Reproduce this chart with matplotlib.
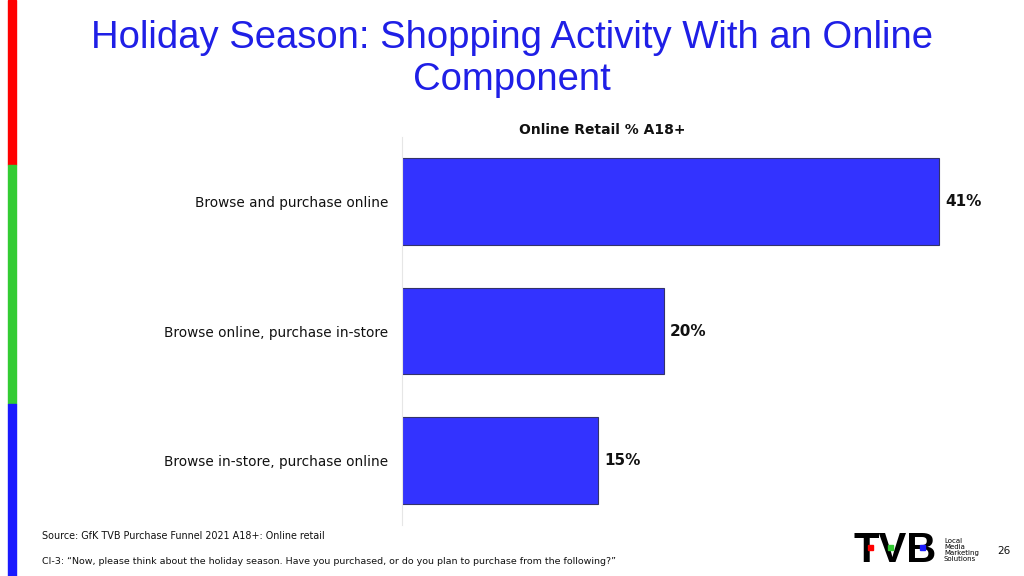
import matplotlib
matplotlib.use("Agg")
import matplotlib.pyplot as plt
from matplotlib.patches import Rectangle

categories = ["Browse and purchase online", "Browse online, purchase in-store", "Browse in-store, purchase online"]
values = [41, 20, 15]
value_labels = ["41%", "20%", "15%"]

W, H = 1024, 576
fig = plt.figure(figsize=(W / 100, H / 100), dpi=100)
fig.patch.set_facecolor("white")

def fx(px):
    return px / W

def fy(py):
    return 1 - py / H

# left colour stripe
for y0, y1, c in [(0, 165, "#FF0000"), (165, 404, "#33CC33"), (404, 576, "#1A1AFF")]:
    fig.patches.append(Rectangle((fx(8), fy(y1)), fx(8), (y1 - y0) / H,
                                 transform=fig.transFigure, color=c, zorder=0))

fig.text(0.5, fy(59), "Holiday Season: Shopping Activity With an Online\nComponent",
         ha="center", va="center", fontsize=27.5, color="#1F1FE6",
         family="Liberation Sans", linespacing=1.2)

ax = fig.add_axes([fx(402), fy(525), fx(613), (525 - 137) / H])
ypos = list(range(len(categories)))
ax.barh(ypos, values, height=0.67, color="#3333FF", edgecolor="#33336B", linewidth=0.8)
ax.set_ylim(2.5, -0.5)
ax.set_xlim(0, 46.8)
ax.set_yticks(ypos)
ax.set_yticklabels(categories, fontsize=9.8, color="#111111")
ax.tick_params(axis="y", length=0, pad=10)
ax.set_xticks([])
for s in ["top", "right", "bottom"]:
    ax.spines[s].set_visible(False)
ax.spines["left"].set_color("#E6E6E6")
for y, v, lab in zip(ypos, values, value_labels):
    ax.text(v + 0.45, y, lab, va="center", ha="left", fontsize=11, fontweight="bold", color="#111111")

fig.text(fx(602), fy(130), "Online Retail % A18+", ha="center", va="center",
         fontsize=10, fontweight="bold", color="#111111")

fig.text(fx(42), fy(536), "Source: GfK TVB Purchase Funnel 2021 A18+: Online retail",
         ha="left", va="center", fontsize=6.9, color="#111111")
fig.text(fx(42), fy(561), "CI-3: \u201cNow, please think about the holiday season. Have you purchased, or do you plan to purchase from the following?\u201d",
         ha="left", va="center", fontsize=6.8, color="#111111")

fig.text(fx(1004), fy(551), "26", ha="center", va="center", fontsize=7.5, color="#111111")

# TVB logo
fig.text(fx(853), fy(551), "TVB", ha="left", va="center", fontsize=30, fontweight="bold",
         color="black", family="Liberation Sans")
for x0, c in [(868, "#FF0000"), (888, "#33CC33"), (920, "#1A1AFF")]:
    fig.patches.append(Rectangle((fx(x0), fy(550)), fx(5), 5 / H,
                                 transform=fig.transFigure, color=c, zorder=5))
fig.text(fx(944), fy(550), "Local\nMedia\nMarketing\nSolutions", ha="left", va="center",
         fontsize=5, color="black", linespacing=1.0)

fig.savefig("out.png", dpi=100)
